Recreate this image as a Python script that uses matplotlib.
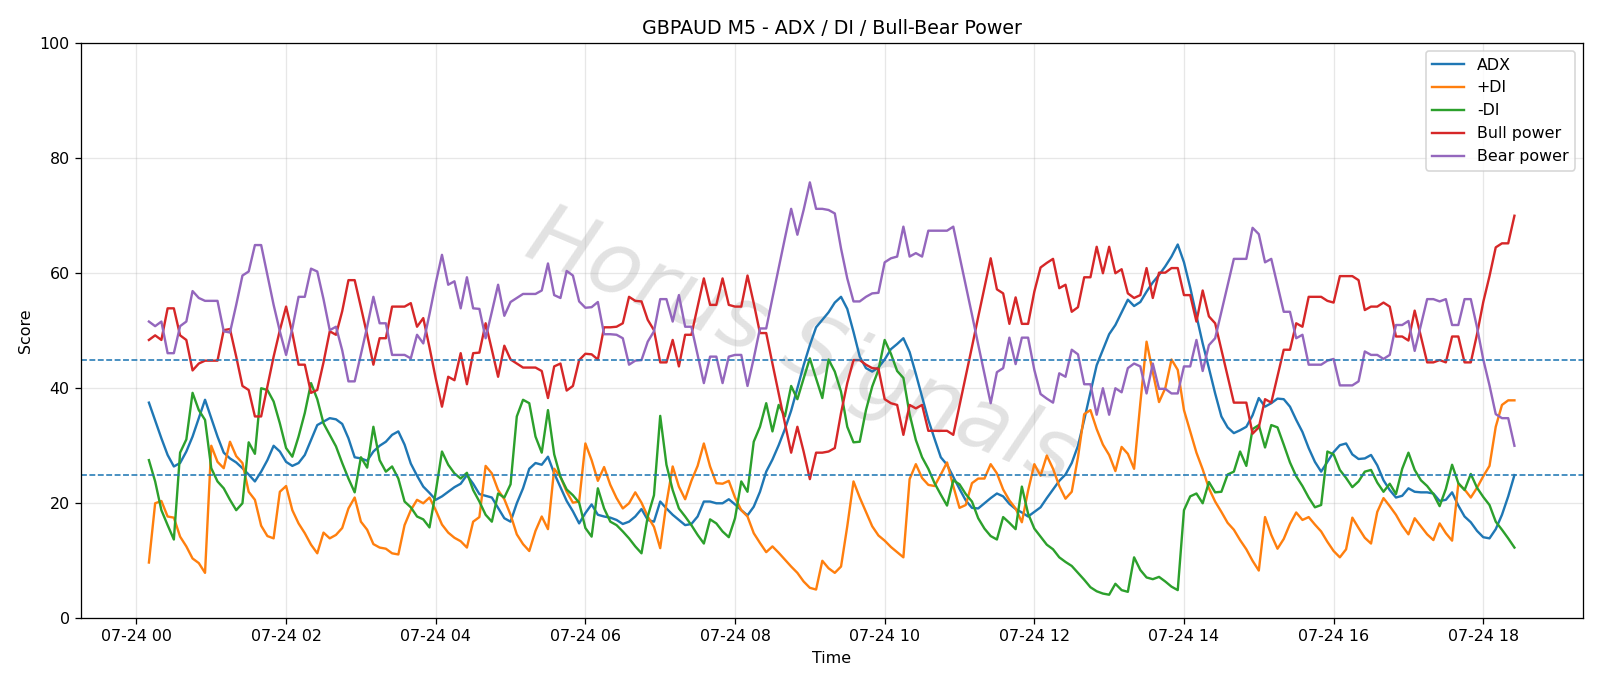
import pandas as pd
import matplotlib
matplotlib.use('Agg')
import matplotlib.pyplot as plt
import matplotlib.dates as mdates

# GBPAUD M5, 5 minute bars starting 00:10
start = '2025-07-24 00:10'

adx = [37.5, 34.4, 31.3, 28.4, 26.4, 27.0, 29.0, 31.6, 34.8, 38.0, 34.8, 31.6, 28.8, 27.8, 27.1, 26.1, 25.0, 23.8, 25.5, 27.5, 30.0, 29.0,
       27.2, 26.5, 27.0, 28.4, 31.0, 33.6, 34.2, 34.8, 34.6, 33.8, 31.3, 28.0, 27.8, 27.4, 29.0, 30.0, 30.7, 31.9, 32.5, 30.2, 26.9, 24.8, 22.9, 21.8, 20.6,
       21.2, 22.0, 22.8, 23.4, 24.9, 23.4, 21.6, 21.3, 21.0, 19.2, 17.4, 16.8, 20.0, 22.6, 26.0, 27.0, 26.7, 28.1, 25.2, 22.8, 20.4, 18.6, 16.5, 18.3,
       19.8, 18.0, 17.7, 17.5, 17.1, 16.4, 16.8, 17.7, 19.0, 17.1, 16.8, 20.3, 19.1, 18.0, 17.1, 16.2, 16.4, 17.7, 20.3, 20.3, 20.0, 20.0, 20.7, 19.8,
       18.8, 17.9, 19.4, 22.0, 25.5, 27.6, 30.1, 32.9, 36.1, 40.0, 44.0, 47.5, 50.6, 51.9, 53.2, 54.9, 55.9, 53.8, 49.8, 45.5, 43.5, 42.9, 43.6, 45.0,
       46.8, 47.7, 48.7, 46.3, 42.5, 38.5, 34.5, 31.2, 28.0, 26.7, 24.6, 22.5, 20.5, 19.2, 19.1, 20.0, 20.9, 21.7, 21.2, 19.9, 19.0, 18.4, 17.7, 18.5,
       19.3, 20.9, 22.4, 23.9, 25.0, 27.0, 30.0, 34.5, 39.3, 44.0, 46.7, 49.4, 51.0, 53.2, 55.4, 54.3, 55.0, 56.8, 58.4, 59.7, 61.2, 62.9, 65.0, 61.9,
       57.5, 52.6, 47.8, 43.5, 39.1, 35.1, 33.2, 32.2, 32.7, 33.3, 35.3, 38.3, 36.8, 37.4, 38.2, 38.1, 36.8, 34.5, 32.4, 29.6, 27.2, 25.5, 27.2, 28.9,
       30.1, 30.4, 28.5, 27.7, 27.8, 28.4, 26.6, 24.0, 22.3, 21.0, 21.3, 22.6, 22.0, 21.9, 21.9, 21.7, 20.4, 20.6, 21.9, 19.6, 17.7, 16.7, 15.2, 14.1,
       13.9, 15.5, 18.0, 21.2, 24.9]

plus_di = [9.7, 20.0, 20.4, 17.7, 17.5, 14.2, 12.5, 10.4, 9.6, 7.9, 30.0, 27.2, 26.1, 30.7, 28.2, 27.0, 22.0, 20.6, 16.1, 14.3, 13.9, 22.0,
           23.0, 18.8, 16.5, 14.8, 12.8, 11.3, 14.9, 13.9, 14.5, 15.7, 19.1, 21.0, 16.8, 15.4, 12.9, 12.3, 12.1, 11.3, 11.1, 16.2, 18.8, 20.6, 20.0, 21.0, 18.8,
           16.3, 14.9, 14.0, 13.4, 12.3, 16.8, 17.6, 26.5, 25.2, 22.3, 20.7, 18.0, 14.6, 12.9, 11.7, 15.2, 17.7, 15.5, 26.0, 24.6, 22.0, 20.1, 20.3, 30.4,
           27.5, 23.9, 26.3, 23.2, 20.9, 19.1, 20.0, 21.9, 20.1, 17.7, 15.9, 12.2, 20.0, 26.4, 22.9, 20.7, 23.9, 26.5, 30.4, 26.4, 23.5, 23.4, 23.9, 21.0,
           18.8, 17.7, 14.8, 13.1, 11.5, 12.5, 11.4, 10.2, 9.0, 7.9, 6.4, 5.3, 5.0, 10.0, 8.7, 7.9, 9.0, 16.0, 23.8, 21.0, 18.5, 16.0, 14.4, 13.5,
           12.4, 11.5, 10.6, 24.2, 26.8, 24.4, 23.2, 23.0, 25.0, 27.1, 23.0, 19.2, 19.7, 23.5, 24.3, 24.3, 26.8, 25.2, 22.4, 20.5, 19.1, 16.7, 22.2, 26.8,
           24.8, 28.3, 26.0, 23.0, 20.8, 22.0, 28.0, 35.5, 36.2, 32.9, 30.2, 28.4, 25.6, 29.8, 28.6, 26.0, 37.4, 48.1, 42.8, 37.6, 40.0, 45.0, 43.2, 36.2,
           32.5, 28.8, 25.9, 22.6, 20.3, 18.5, 16.6, 15.4, 13.6, 12.0, 10.0, 8.3, 17.6, 14.5, 12.1, 13.8, 16.4, 18.4, 17.1, 17.6, 16.3, 15.1, 13.3, 11.7,
           10.6, 12.0, 17.5, 15.7, 14.0, 13.0, 18.5, 20.9, 19.5, 18.0, 16.1, 14.6, 17.4, 16.0, 14.6, 13.6, 16.5, 14.8, 13.5, 23.4, 22.4, 21.0, 22.7, 24.7,
           26.5, 33.3, 37.1, 37.9, 37.9]

minus_di = [27.5, 23.8, 18.8, 16.2, 13.7, 28.8, 31.1, 39.2, 36.2, 34.5, 26.1, 23.8, 22.6, 20.6, 18.8, 20.0, 30.6, 28.6, 40.0, 39.7, 37.7, 33.9,
            29.6, 28.1, 31.6, 35.7, 40.9, 38.1, 33.9, 31.9, 29.9, 27.0, 24.3, 21.9, 28.0, 26.2, 33.3, 27.5, 25.5, 26.4, 24.3, 20.3, 19.3, 17.7, 17.2, 15.8, 22.0,
            29.0, 26.7, 25.2, 24.3, 25.3, 22.3, 20.3, 18.0, 16.8, 21.7, 21.0, 23.3, 35.1, 38.0, 37.4, 31.6, 28.8, 36.2, 28.5, 24.6, 22.4, 21.4, 20.1, 15.7,
            14.2, 22.6, 19.1, 16.8, 16.2, 15.1, 13.9, 12.5, 11.3, 17.7, 21.4, 35.2, 26.7, 22.3, 19.1, 17.7, 16.2, 14.5, 13.0, 17.2, 16.5, 15.1, 14.1, 17.4,
            23.8, 22.0, 30.7, 33.3, 37.4, 32.5, 37.1, 35.1, 40.4, 38.1, 41.7, 45.2, 41.7, 38.3, 45.0, 42.9, 39.4, 33.3, 30.6, 30.7, 36.2, 40.3, 43.2, 48.4,
            46.0, 43.0, 41.8, 35.5, 31.0, 28.0, 26.0, 23.5, 21.5, 19.6, 24.0, 23.3, 21.6, 20.3, 17.4, 15.6, 14.3, 13.7, 17.6, 16.6, 15.5, 22.9, 18.2, 15.6,
            14.2, 12.8, 12.0, 10.6, 9.8, 9.1, 7.9, 6.7, 5.4, 4.7, 4.3, 4.1, 6.0, 4.9, 4.6, 10.6, 8.4, 7.1, 6.8, 7.2, 6.4, 5.5, 4.9, 18.8,
            21.2, 21.7, 20.0, 23.7, 21.9, 22.0, 25.0, 25.5, 29.0, 26.5, 32.9, 33.6, 29.7, 33.6, 33.2, 30.2, 27.1, 24.7, 23.0, 21.0, 19.3, 19.7, 29.0, 28.5,
            25.8, 24.4, 22.8, 23.8, 25.5, 25.8, 23.6, 22.0, 23.4, 21.6, 26.0, 28.8, 25.8, 24.0, 23.0, 21.6, 19.5, 22.5, 26.7, 23.5, 22.3, 25.1, 22.7, 21.1,
            19.7, 16.8, 15.4, 13.9, 12.3]

bull = [48.4, 49.2, 48.4, 53.9, 53.9, 49.2, 48.4, 43.1, 44.3, 44.8, 44.8, 44.8, 50.1, 50.3, 45.5, 40.4, 39.7, 35.1, 35.1, 40.3, 45.5, 50.1,
        54.2, 49.6, 44.1, 44.1, 39.2, 39.7, 44.5, 49.9, 49.3, 53.4, 58.8, 58.8, 54.1, 49.3, 44.1, 48.7, 48.7, 54.2, 54.2, 54.2, 54.8, 50.7, 52.2, 47.1, 41.7,
        36.8, 42.0, 41.4, 46.1, 40.7, 46.1, 46.2, 51.3, 46.7, 42.0, 47.4, 45.0, 44.3, 43.6, 43.6, 43.6, 43.0, 38.3, 43.8, 44.3, 39.6, 40.4, 44.9, 46.0,
        45.9, 45.0, 50.6, 50.6, 50.7, 51.3, 55.9, 55.2, 55.1, 51.9, 50.1, 44.5, 44.5, 48.4, 43.8, 49.3, 49.3, 54.2, 59.1, 54.5, 54.5, 59.1, 54.5, 54.2,
        54.2, 59.6, 54.8, 49.6, 49.6, 44.3, 39.1, 33.9, 28.8, 33.3, 29.0, 24.2, 28.8, 28.8, 29.0, 29.6, 35.7, 40.9, 44.9, 44.9, 44.1, 43.5, 43.4, 38.1,
        37.4, 37.1, 31.9, 37.1, 36.5, 37.1, 32.6, 32.6, 32.6, 32.6, 31.9, 37.0, 42.1, 47.2, 52.4, 57.5, 62.6, 57.2, 56.5, 51.2, 55.8, 51.2, 51.2, 56.8,
        61.0, 61.8, 62.5, 57.4, 58.0, 53.3, 54.1, 59.3, 59.3, 64.6, 60.0, 64.6, 60.0, 60.7, 56.5, 55.7, 56.2, 60.9, 55.7, 60.1, 60.1, 60.9, 60.9, 56.2,
        56.2, 51.6, 57.0, 52.5, 51.3, 46.7, 42.1, 37.5, 37.5, 37.5, 32.1, 33.2, 38.1, 37.5, 42.1, 46.7, 46.7, 51.3, 50.7, 55.9, 55.9, 55.9, 55.2, 54.9,
        59.5, 59.5, 59.5, 58.8, 53.6, 54.2, 54.2, 54.9, 54.2, 49.0, 49.0, 48.3, 53.5, 49.0, 44.5, 44.5, 44.9, 44.5, 49.0, 49.0, 44.5, 44.5, 49.4, 55.0,
        59.5, 64.5, 65.2, 65.2, 70.0]

bear = [51.6, 50.8, 51.6, 46.1, 46.1, 50.8, 51.6, 56.9, 55.7, 55.2, 55.2, 55.2, 49.9, 49.7, 54.5, 59.6, 60.3, 64.9, 64.9, 59.7, 54.5, 49.9,
        45.8, 50.4, 55.9, 55.9, 60.8, 60.3, 55.5, 50.1, 50.7, 46.6, 41.2, 41.2, 45.9, 50.7, 55.9, 51.3, 51.3, 45.8, 45.8, 45.8, 45.2, 49.3, 47.8, 52.9, 58.3,
        63.2, 58.0, 58.6, 53.9, 59.3, 53.9, 53.8, 48.7, 53.3, 58.0, 52.6, 55.0, 55.7, 56.4, 56.4, 56.4, 57.0, 61.7, 56.2, 55.7, 60.4, 59.6, 55.1, 54.0,
        54.1, 55.0, 49.4, 49.4, 49.3, 48.7, 44.1, 44.8, 44.9, 48.1, 49.9, 55.5, 55.5, 51.6, 56.2, 50.7, 50.7, 45.8, 40.9, 45.5, 45.5, 40.9, 45.5, 45.8,
        45.8, 40.4, 45.2, 50.4, 50.4, 55.7, 60.9, 66.1, 71.2, 66.7, 71.0, 75.8, 71.2, 71.2, 71.0, 70.4, 64.3, 59.1, 55.1, 55.1, 55.9, 56.5, 56.6, 61.9,
        62.6, 62.9, 68.1, 62.9, 63.5, 62.9, 67.4, 67.4, 67.4, 67.4, 68.1, 63.0, 57.9, 52.8, 47.6, 42.5, 37.4, 42.8, 43.5, 48.8, 44.2, 48.8, 48.8, 43.2,
        39.0, 38.2, 37.5, 42.6, 42.0, 46.7, 45.9, 40.7, 40.7, 35.4, 40.0, 35.4, 40.0, 39.3, 43.5, 44.3, 43.8, 39.1, 44.3, 39.9, 39.9, 39.1, 39.1, 43.8,
        43.8, 48.4, 43.0, 47.5, 48.7, 53.3, 57.9, 62.5, 62.5, 62.5, 67.9, 66.8, 61.9, 62.5, 57.9, 53.3, 53.3, 48.7, 49.3, 44.1, 44.1, 44.1, 44.8, 45.1,
        40.5, 40.5, 40.5, 41.2, 46.4, 45.8, 45.8, 45.1, 45.8, 51.0, 51.0, 51.7, 46.5, 51.0, 55.5, 55.5, 55.1, 55.5, 51.0, 51.0, 55.5, 55.5, 50.6, 45.0,
        40.5, 35.5, 34.8, 34.8, 30.0]

levels = [25, 45]

t = pd.date_range(start, periods=len(adx), freq='5min')

fig = plt.figure(figsize=(14, 6.0025), dpi=800 / 7)
ax = fig.add_subplot(1, 1, 1)
fig.subplots_adjust(left=0.0504, right=0.9892, bottom=0.0987, top=0.937)

ax.plot(t, adx, label='ADX', lw=1.5)
ax.plot(t, plus_di, label='+DI', lw=1.5)
ax.plot(t, minus_di, label='-DI', lw=1.5)
ax.plot(t, bull, label='Bull power', lw=1.5)
ax.plot(t, bear, label='Bear power', lw=1.5)
for lv in levels:
    ax.axhline(lv, ls='--', lw=1, color='C0')

ax.set_ylim(0, 100)
ax.set_title('GBPAUD M5 - ADX / DI / Bull-Bear Power')
ax.set_xlabel('Time')
ax.set_ylabel('Score')
ax.grid(True, alpha=0.3)
ax.legend(loc='upper right')
ax.xaxis.set_major_locator(mdates.HourLocator(byhour=range(0, 24, 2)))
ax.xaxis.set_major_formatter(mdates.DateFormatter('%m-%d %H'))

# watermark
ax.text(0.48, 0.47, 'Horus Signals', transform=ax.transAxes, fontsize=54,
        color='#b8b8b8', alpha=0.4, rotation=-23, ha='center', va='center',
        style='italic', fontweight='light', zorder=0)

fig.savefig('out.png', dpi=800 / 7)
